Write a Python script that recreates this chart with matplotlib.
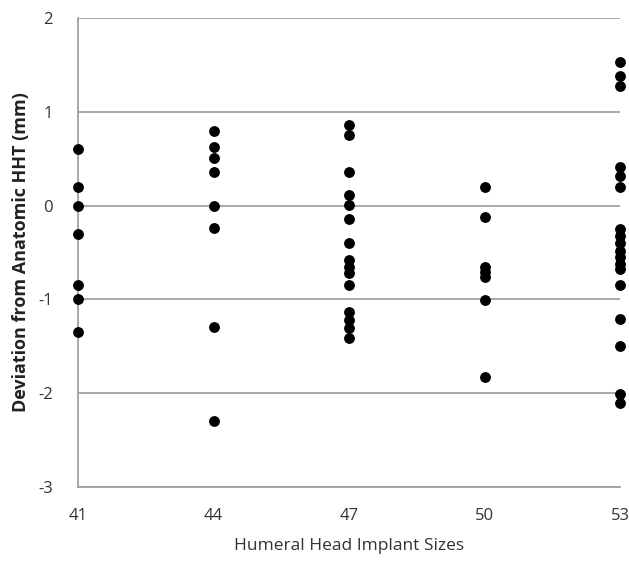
import matplotlib
matplotlib.use("Agg")
import matplotlib.pyplot as plt

sizes = [41, 44, 47, 50, 53]
dev_41 = [0.6, 0.2, 0.0, -0.3, -0.85, -1.0, -1.35]
dev_44 = [0.8, 0.62, 0.51, 0.36, 0.0, -0.24, -1.3, -2.3]
dev_47 = [0.86, 0.75, 0.36, 0.11, 0.01, -0.14, -0.4, -0.58, -0.65, -0.72, -0.85,
          -1.13, -1.22, -1.31, -1.41]
dev_50 = [0.2, -0.12, -0.66, -0.71, -0.76, -1.01, -1.83]
dev_53 = [1.53, 1.38, 1.27, 0.41, 0.31, 0.2, -0.25, -0.32, -0.4, -0.48, -0.55,
          -0.62, -0.68, -0.85, -1.21, -1.5, -2.01, -2.11]
deviations = [dev_41, dev_44, dev_47, dev_50, dev_53]

plt.rcParams['font.family'] = ['Open Sans', 'DejaVu Sans']
plt.rcParams['axes.unicode_minus'] = False

fig = plt.figure(figsize=(6.29, 5.61), dpi=100)
ax = fig.add_axes([0.124, 0.132, 0.862, 0.836])

for size, vals in zip(sizes, deviations):
    ax.scatter([size] * len(vals), vals, s=46, color="black", zorder=3, clip_on=False)

ax.set_xlim(41, 53)
ax.set_ylim(-3, 2)
ax.set_xticks(sizes)
ax.set_yticks([-3, -2, -1, 0, 1, 2])
ax.yaxis.grid(True, color="#9a9a9a", linewidth=1.2)
ax.set_axisbelow(True)

for side in ["top", "right"]:
    ax.spines[side].set_visible(False)
for side in ["left", "bottom"]:
    ax.spines[side].set_color("#9a9a9a")
    ax.spines[side].set_linewidth(1.2)

ax.tick_params(length=0, labelsize=12, colors="#333333")
ax.tick_params(axis="x", pad=15)
ax.tick_params(axis="y", pad=18)
ax.set_xlabel("Humeral Head Implant Sizes", fontsize=12.5, color="#333333", labelpad=10)
ax.set_ylabel("Deviation from Anatomic HHT (mm)", fontsize=13, color="#222222",
              labelpad=6, fontweight="bold")

fig.savefig("out.png", dpi=100)
